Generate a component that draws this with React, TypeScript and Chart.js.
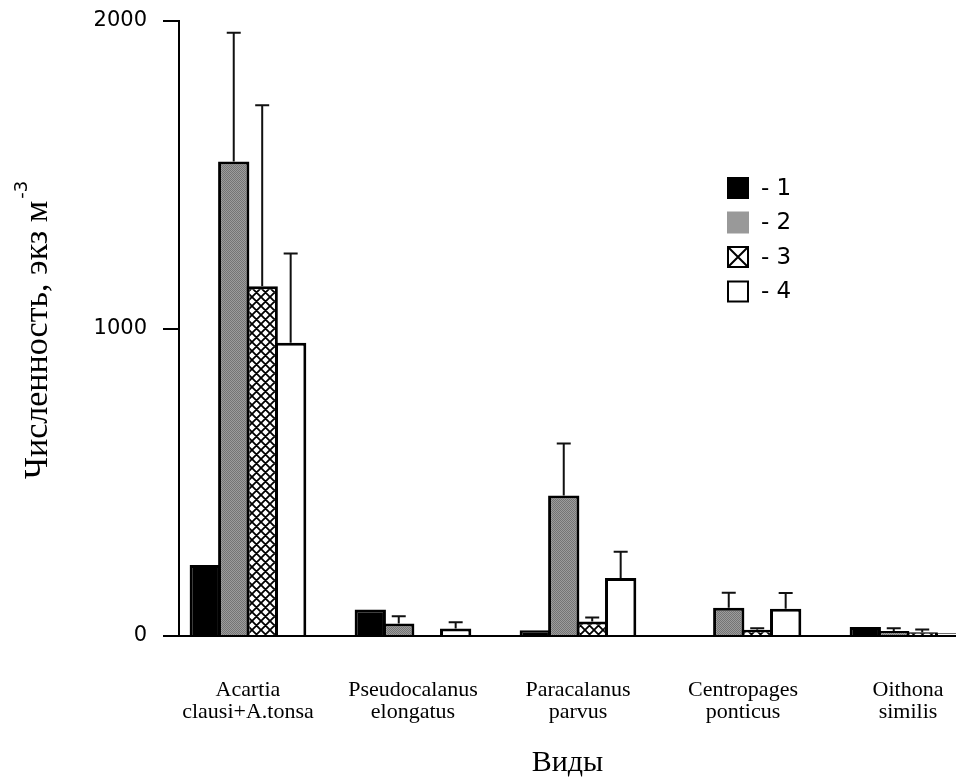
import React, { useEffect, useRef } from "react";
import { Chart, registerables } from "chart.js";

Chart.register(...registerables);

// ---- data ----
const categories: string[][] = [
  ["Acartia", "clausi+A.tonsa"],
  ["Pseudocalanus", "elongatus"],
  ["Paracalanus", "parvus"],
  ["Centropages", "ponticus"],
  ["Oithona", "similis"],
];
const seriesLabels = ["1", "2", "3", "4"];
const series1 = [231, 86, 19, 2, 29];
const series2 = [1543, 41, 457, 92, 16];
const series3 = [1137, 3, 47, 20, 12];
const series4 = [954, 24, 189, 89, 9];
const errors1 = [0, 0, 0, 0, 0];
const errors2 = [419, 23, 169, 49, 9];
const errors3 = [589, 0, 13, 5, 9];
const errors4 = [290, 21, 85, 51, 0];
const yTicks = [0, 1000, 2000];
const yTitleMain = "Численность, экз м";
const yTitleSup = "-3";
const xTitle = "Виды";

function makeGrayPattern(ctx: CanvasRenderingContext2D): CanvasPattern {
  const c = document.createElement("canvas");
  c.width = 2;
  c.height = 2;
  const g = c.getContext("2d")!;
  g.fillStyle = "#9c9c9c";
  g.fillRect(0, 0, 2, 2);
  g.fillStyle = "#747474";
  g.fillRect(0, 0, 1, 1);
  g.fillRect(1, 1, 1, 1);
  return ctx.createPattern(c, "repeat")!;
}

function makeCrossPattern(ctx: CanvasRenderingContext2D): CanvasPattern {
  const s = 9;
  const c = document.createElement("canvas");
  c.width = s;
  c.height = s;
  const g = c.getContext("2d")!;
  g.fillStyle = "#ffffff";
  g.fillRect(0, 0, s, s);
  g.strokeStyle = "#000000";
  g.lineWidth = 1.8;
  g.beginPath();
  for (const k of [-s, 0, s]) {
    g.moveTo(k, 0);
    g.lineTo(k + s, s);
    g.moveTo(k + s, 0);
    g.lineTo(k, s);
  }
  g.stroke();
  return ctx.createPattern(c, "repeat")!;
}

export default function App() {
  const ref = useRef<HTMLCanvasElement>(null);

  useEffect(() => {
    const canvas = ref.current!;
    const ctx = canvas.getContext("2d")!;
    const gray = makeGrayPattern(ctx);
    const cross = makeCrossPattern(ctx);
    const values = [series1, series2, series3, series4];
    const errs = [errors1, errors2, errors3, errors4];
    const fills: (string | CanvasPattern)[] = ["#000000", gray, cross, "#ffffff"];

    const errorBars = {
      id: "errorBars",
      afterDatasetsDraw(chart: any) {
        const c = chart.ctx;
        const y = chart.scales.y;
        values.forEach((vals, k) => {
          const meta = chart.getDatasetMeta(k);
          meta.data.forEach((el: any, i: number) => {
            const e = errs[k][i];
            if (!e) return;
            const top = y.getPixelForValue(vals[i] + e);
            c.save();
            c.strokeStyle = "#111111";
            c.lineWidth = 2;
            c.beginPath();
            c.moveTo(el.x, el.y);
            c.lineTo(el.x, top);
            c.moveTo(el.x - 7, top);
            c.lineTo(el.x + 7, top);
            c.stroke();
            c.restore();
          });
        });
      },
    };

    const customLegend = {
      id: "customLegend",
      afterDraw(chart: any) {
        const c = chart.ctx;
        const x0 = 727;
        const y0 = 177;
        const step = 34.5;
        const box = 22;
        seriesLabels.forEach((lab, k) => {
          const top = y0 + k * step;
          c.save();
          if (k === 0) {
            c.fillStyle = "#000000";
            c.fillRect(x0, top, box, box);
          } else if (k === 1) {
            c.fillStyle = "#999999";
            c.fillRect(x0, top, box, box);
          } else {
            c.fillStyle = "#ffffff";
            c.fillRect(x0, top, box, box);
            c.strokeStyle = "#000000";
            c.lineWidth = 2;
            c.strokeRect(x0 + 1, top + 1, box - 2, box - 2);
            if (k === 2) {
              c.beginPath();
              c.moveTo(x0 + 1, top + 1);
              c.lineTo(x0 + box - 1, top + box - 1);
              c.moveTo(x0 + box - 1, top + 1);
              c.lineTo(x0 + 1, top + box - 1);
              c.stroke();
            }
          }
          c.fillStyle = "#000000";
          c.font = '23px "DejaVu Sans"';
          c.textBaseline = "middle";
          c.textAlign = "left";
          c.fillText("- " + lab, x0 + 34, top + box / 2 + 1);
          c.restore();
        });
      },
    };

    const yTitlePlugin = {
      id: "yTitle",
      afterDraw(chart: any) {
        const c = chart.ctx;
        c.save();
        c.translate(47, 330);
        c.rotate(-Math.PI / 2);
        c.fillStyle = "#000000";
        c.textBaseline = "alphabetic";
        c.textAlign = "left";
        const mainFont = '34px "Liberation Serif"';
        const supFont = '18px "DejaVu Sans"';
        c.font = mainFont;
        const wMain = c.measureText(yTitleMain).width;
        c.font = supFont;
        const wSup = c.measureText(yTitleSup).width;
        const start = -(wMain + wSup + 2) / 2;
        c.font = mainFont;
        c.fillText(yTitleMain, start, 0);
        c.font = supFont;
        c.fillText(yTitleSup, start + wMain + 2, -20);
        c.restore();
      },
    };

    const chart = new Chart(canvas, {
      type: "bar",
      data: {
        datasets: values.map((vals, k) => ({
          label: seriesLabels[k],
          data: vals.map((v, i) => ({ x: i, y: v })),
          backgroundColor: fills[k],
          borderColor: "#000000",
          borderWidth: 3,
          categoryPercentage: 0.69,
          barPercentage: 1.1,
        })),
      },
      options: {
        responsive: false,
        animation: false,
        devicePixelRatio: 1,
        layout: { padding: { top: 21, right: 0, bottom: 0, left: 0 } },
        plugins: {
          legend: { display: false },
          tooltip: { enabled: false },
        },
        scales: {
          x: {
            type: "linear",
            offset: false,
            min: -0.418,
            max: 4.291,
            grid: { display: false, drawTicks: false, offset: false },
            border: { display: true, color: "#000000", width: 2 },
            afterBuildTicks: (s: any) => {
              s.ticks = categories.map((_, i) => ({ value: i }));
            },
            afterFit: (s: any) => {
              s.height = 142;
              s.paddingLeft = 0;
              s.paddingRight = 0;
            },
            ticks: {
              autoSkip: false,
              maxRotation: 0,
              minRotation: 0,
              padding: 43,
              color: "#000000",
              font: { family: "Liberation Serif", size: 22, lineHeight: 1 },
              callback: (v: any) => categories[Math.round(v)] ?? "",
            },
            title: {
              display: true,
              text: xTitle,
              color: "#000000",
              padding: 0,
              font: { family: "Liberation Serif", size: 30, lineHeight: 1 },
            },
          },
          y: {
            min: 0,
            max: 2000,
            afterBuildTicks: (s: any) => {
              s.ticks = yTicks.map((v) => ({ value: v }));
            },
            afterFit: (s: any) => {
              s.width = 179;
              s.paddingTop = 0;
              s.paddingBottom = 0;
            },
            grid: {
              display: true,
              drawOnChartArea: false,
              drawTicks: true,
              tickLength: 16,
              color: "#000000",
              lineWidth: 2,
            },
            border: { display: true, color: "#000000", width: 2 },
            ticks: {
              padding: 16,
              color: "#000000",
              font: { family: "DejaVu Sans", size: 21 },
              callback: (v: any) => String(v),
            },
          },
        },
      },
      plugins: [errorBars, customLegend, yTitlePlugin],
    } as any);

    return () => chart.destroy();
  }, []);

  return (
    <div style={{ position: "absolute", left: 0, top: 0, width: 956, height: 778, background: "#ffffff" }}>
      <canvas ref={ref} width={956} height={778} style={{ display: "block" }} />
    </div>
  );
}
